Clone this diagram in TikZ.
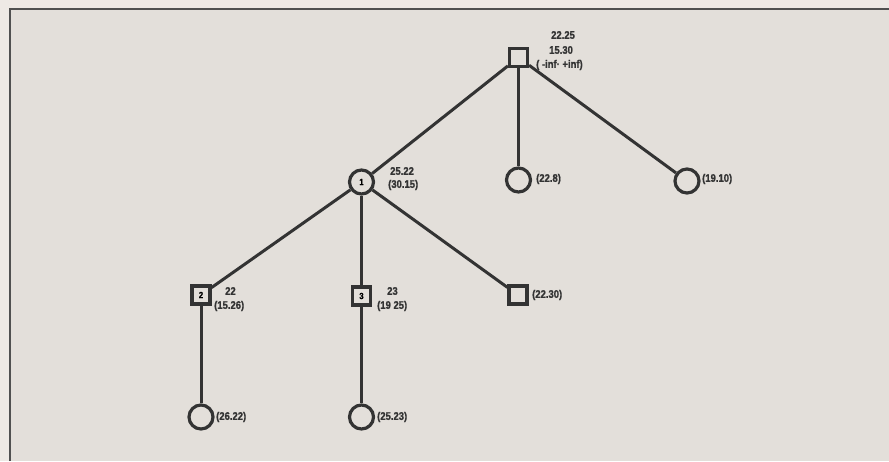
\documentclass[tikz,border=0pt]{standalone}
\usepackage{fontspec}
\setmainfont{Liberation Sans}[FakeStretch=0.86,FakeBold=1.2]
\definecolor{outerbg}{HTML}{EEE9E5}
\definecolor{innerbg}{HTML}{E3DFDA}
\definecolor{ink}{HTML}{333333}
\definecolor{framec}{HTML}{505050}
\begin{document}
\begin{tikzpicture}[x=1pt,y=-1pt,
  circ/.style={circle,draw=ink,line width=3.2pt,fill=innerbg,minimum size=24pt,inner sep=0pt,font=\bfseries\fontsize{9}{9}\selectfont},
  sq/.style={rectangle,draw=ink,line width=3.2pt,fill=innerbg,minimum size=18pt,inner sep=0pt,font=\bfseries\fontsize{9}{9}\selectfont},
  edge/.style={draw=ink,line width=3pt},
  lbl/.style={anchor=west,inner sep=0pt,text=ink,font=\bfseries\fontsize{11}{12}\selectfont}]
\useasboundingbox (0,0) rectangle (889,461);
\fill[outerbg] (0,0) rectangle (889,461);
\fill[innerbg] (10,9) rectangle (889,461);
\draw[framec,line width=2pt] (10,461) -- (10,9) -- (889,9);
% nodes
\node[sq] (r) at (518.5,57.5) {};
\node[circ] (n1) at (361.5,182) {1};
\node[circ] (c2) at (518.5,180) {};
\node[circ] (c3) at (687,181) {};
\node[sq] (s2) at (201,295) {2};
\node[sq] (s3) at (361.5,296) {3};
\node[sq] (s4) at (518,295) {};
\node[circ] (b1) at (201,417) {};
\node[circ] (b2) at (361.5,417) {};
% edges
\draw[edge] (r) -- (n1);
\draw[edge] (r) -- (c2);
\draw[edge] (r) -- (c3);
\draw[edge] (n1) -- (s2);
\draw[edge] (n1) -- (s3);
\draw[edge] (n1) -- (s4);
\draw[edge] (s2) -- (b1);
\draw[edge] (s3) -- (b2);
% labels
\node[lbl] (t1) at (551,35) {22.25};
\node[lbl] (t2) at (549,50) {15.30};
\node[lbl] (t3) at (536,65) {( -inf· +inf)};
\node[lbl] (t4) at (390,171) {25.22};
\node[lbl] (t5) at (388,185) {(30.15)};
\node[lbl] (t6) at (536,179) {(22.8)};
\node[lbl] (t7) at (702,179) {(19.10)};
\node[lbl] (t8) at (225,291) {22};
\node[lbl] (t9) at (214,306) {(15.26)};
\node[lbl] (t10) at (387,291) {23};
\node[lbl] (t11) at (377,306) {(19 25)};
\node[lbl] (t12) at (532,295) {(22.30)};
\node[lbl] (t13) at (216,417) {(26.22)};
\node[lbl] (t14) at (377,417) {(25.23)};
\end{tikzpicture}
\end{document}
